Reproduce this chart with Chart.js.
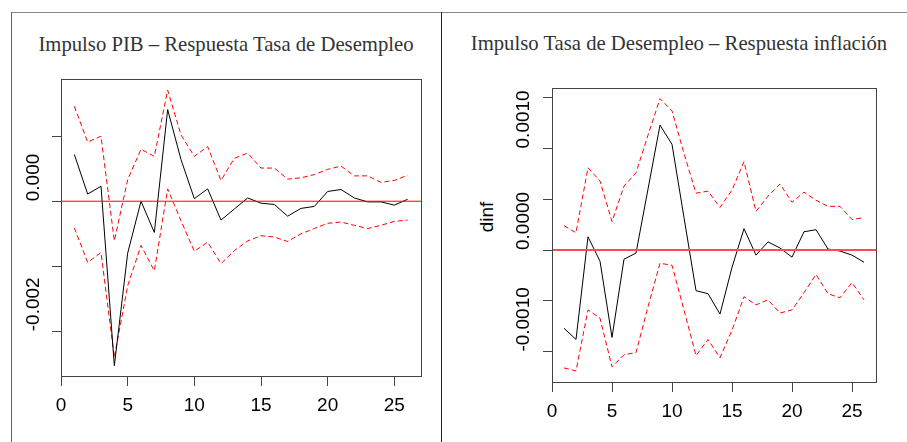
<!DOCTYPE html>
<html lang="es">
<head>
  <meta charset="UTF-8" />
  <title>Impulso respuesta</title>
  <script src="https://cdn.jsdelivr.net/npm/chart.js"></script>
  <style>
    body { margin: 0; background: #fff; }
    .pagina { position: relative; width: 907px; height: 442px; overflow: hidden; background: #fff; }
    .linea { position: absolute; }
    .titulo { position: absolute; font-family: "Liberation Serif", "DejaVu Serif", serif; font-size: 20.7px; line-height: 24px; color: #333; text-align: center; white-space: nowrap; }
    .ylab { position: absolute; width: 60px; height: 24px; line-height: 24px; text-align: center; font-family: "Liberation Sans", Arial, sans-serif; font-size: 19px; color: #000; transform: rotate(-90deg); }
    canvas { position: absolute; }
  </style>
</head>
<body>
<div class="pagina">
  <!-- marco -->
  <div class="linea" style="left:11px; top:12px; width:896px; height:1px; background:#888;"></div>
  <div class="linea" style="left:11px; top:12px; width:1px; height:430px; background:#666;"></div>
  <div class="linea" style="left:441px; top:12px; width:1px; height:430px; background:#222;"></div>

  <div class="titulo" style="left:11px; top:32px; width:430px;">Impulso PIB – Respuesta Tasa de Desempleo</div>
  <div class="titulo" style="left:451px; top:31px; width:456px;">Impulso Tasa de Desempleo – Respuesta inflación</div>
  <div class="ylab" style="left:457px; top:205px;">dinf</div>

  <canvas id="graficoPib" width="428" height="429" style="left:12px; top:13px;"></canvas>
  <canvas id="graficoDes" width="465" height="429" style="left:442px; top:13px;"></canvas>
</div>

<script>
// periodos del horizonte
const periodos = [1,2,3,4,5,6,7,8,9,10,11,12,13,14,15,16,17,18,19,20,21,22,23,24,25,26];
const xMarcas = [0, 5, 10, 15, 20, 25];
const xLimites = [0, 27];

// Impulso PIB -> Respuesta Tasa de Desempleo
const pibRespuesta = [0.00072, 0.00011, 0.00023, -0.00253, -0.00080, 0.00000, -0.00048, 0.00141, 0.00064, 0.00004,
  0.00019, -0.00029, -0.00012, 0.00005, -0.00003, -0.00005, -0.00023, -0.00011, -0.00008, 0.00015,
  0.00018, 0.00005, -0.00001, -0.00001, -0.00006, 0.00003];
const pibSuperior = [0.00146, 0.00091, 0.00100, -0.00061, 0.00033, 0.00080, 0.00069, 0.00171, 0.00102, 0.00069,
  0.00084, 0.00032, 0.00066, 0.00074, 0.00051, 0.00051, 0.00034, 0.00036, 0.00041, 0.00049,
  0.00054, 0.00039, 0.00039, 0.00029, 0.00032, 0.00040];
const pibInferior = [-0.00041, -0.00094, -0.00079, -0.00240, -0.00130, -0.00068, -0.00107, 0.00019, -0.00030, -0.00077,
  -0.00063, -0.00096, -0.00076, -0.00061, -0.00053, -0.00055, -0.00062, -0.00050, -0.00042, -0.00034,
  -0.00032, -0.00037, -0.00042, -0.00037, -0.00031, -0.00029];
const pibYMarcas = [-0.002, 0];

// Impulso Tasa de Desempleo -> Respuesta inflacion (dinf)
const desRespuesta = [-0.00077, -0.00088, 0.00013, -0.00011, -0.00086, -0.00009, -0.00003, 0.00060, 0.00123, 0.00104,
  0.00032, -0.00040, -0.00043, -0.00063, -0.00017, 0.00021, -0.00005, 0.00008, 0.00002, -0.00007,
  0.00018, 0.00020, 0.00001, -0.00001, -0.00005, -0.00012];
const desSuperior = [0.00024, 0.00017, 0.00081, 0.00068, 0.00028, 0.00063, 0.00076, 0.00113, 0.00149, 0.00137,
  0.00095, 0.00056, 0.00058, 0.00042, 0.00059, 0.00087, 0.00038, 0.00053, 0.00065, 0.00047,
  0.00057, 0.00049, 0.00043, 0.00043, 0.00030, 0.00032];
const desInferior = [-0.00116, -0.00119, -0.00059, -0.00067, -0.00115, -0.00103, -0.00101, -0.00056, -0.00013, -0.00015,
  -0.00059, -0.00104, -0.00088, -0.00106, -0.00079, -0.00046, -0.00054, -0.00049, -0.00062, -0.00059,
  -0.00042, -0.00024, -0.00043, -0.00047, -0.00032, -0.00049];
const desYMarcas = [-0.001, 0, 0.001];

const fuenteEjes = { family: '"Liberation Sans", Arial, sans-serif', size: 19 };

// caja alrededor del area de datos
const marco = {
  id: 'marco',
  afterDraw(chart) {
    const a = chart.chartArea;
    const ctx = chart.ctx;
    ctx.save();
    ctx.strokeStyle = '#444';
    ctx.lineWidth = 1;
    ctx.strokeRect(Math.round(a.left) + 0.5, Math.round(a.top) + 0.5,
      Math.round(a.right - a.left), Math.round(a.bottom - a.top));
    ctx.restore();
  }
};

function serie(valores, color, punteada) {
  return {
    data: periodos.map((p, i) => ({ x: p, y: valores[i] })),
    borderColor: color,
    borderWidth: 1,
    borderDash: punteada ? [5, 3] : [],
    pointRadius: 0,
    tension: 0,
    fill: false
  };
}

// linea horizontal en cero (abline)
function lineaCero(color, ancho) {
  return {
    data: xLimites.map(x => ({ x: x, y: 0 })),
    borderColor: color,
    borderWidth: ancho,
    pointRadius: 0,
    fill: false
  };
}

function crearPanel(id, resp, sup, inf, cfg) {
  const ctx = document.getElementById(id).getContext('2d');
  return new Chart(ctx, {
    type: 'line',
    data: {
      datasets: [
        lineaCero(cfg.ceroColor, cfg.ceroAncho),
        serie(resp, '#000', false),
        serie(sup, '#ff0000', true),
        serie(inf, '#ff0000', true)
      ]
    },
    options: {
      responsive: false,
      animation: false,
      layout: { padding: cfg.padding },
      plugins: { legend: { display: false }, tooltip: { enabled: false } },
      scales: {
        x: {
          type: 'linear',
          min: xLimites[0], max: xLimites[1],
          border: { display: false },
          grid: { drawOnChartArea: false, tickLength: 10, tickColor: '#444' },
          ticks: {
            stepSize: 5, includeBounds: false, autoSkip: false, maxRotation: 0,
            padding: 8, color: '#000', font: fuenteEjes,
            callback: v => xMarcas.includes(v) ? String(v) : ''
          },
          afterFit: s => { s.height = 40; }
        },
        y: {
          type: 'linear',
          min: cfg.yMin, max: cfg.yMax,
          border: { display: false },
          grid: { drawOnChartArea: false, tickLength: 9, tickColor: '#444' },
          ticks: {
            stepSize: cfg.paso, includeBounds: false, autoSkip: false,
            minRotation: 90, maxRotation: 90,
            // texto girado que arranca en la marca y sube
            mirror: true, crossAlign: 'near', padding: cfg.separacionY,
            color: '#000', font: fuenteEjes,
            callback: v => cfg.marcas.some(m => Math.abs(m - v) < 1e-9) ? v.toFixed(cfg.decimales) : ''
          },
          afterFit: s => { s.width = cfg.anchoY; }
        }
      }
    },
    plugins: [marco]
  });
}

crearPanel('graficoPib', pibRespuesta, pibSuperior, pibInferior, {
  yMin: -0.002688, yMax: 0.00188, paso: 0.001, marcas: pibYMarcas, decimales: 3,
  padding: { left: 22, right: 19, top: 66, bottom: 26 }, anchoY: 27, separacionY: -27,
  ceroColor: '#ff0000', ceroAncho: 1
});

crearPanel('graficoDes', desRespuesta, desSuperior, desInferior, {
  yMin: -0.001299, yMax: 0.001595, paso: 0.0005, marcas: desYMarcas, decimales: 4,
  padding: { left: 82, right: 31, top: 75, bottom: 20 }, anchoY: 28, separacionY: -28,
  ceroColor: '#ff4d4d', ceroAncho: 2
});
</script>
</body>
</html>
